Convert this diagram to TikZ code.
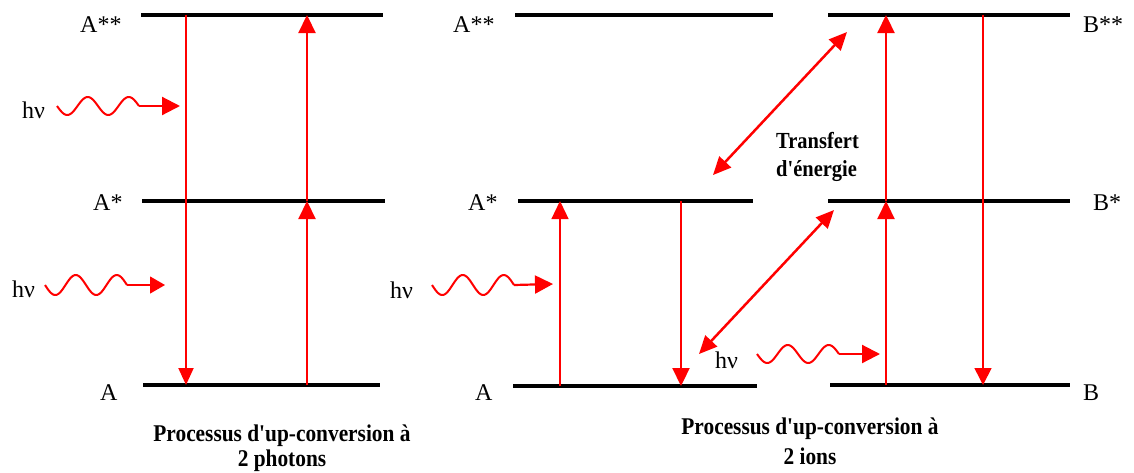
\documentclass[tikz,border=0pt]{standalone}
\usepackage{fontspec}
\setmainfont{Liberation Serif}
\newfontfamily\capfont[FakeStretch=0.89]{Liberation Serif}
\usetikzlibrary{arrows.meta}
\newcommand\photonwave[4]{% x0, yc, amplitude, end coordinate name
  \draw[wave] plot[domain=0:82,samples=70] ({#1+\x},{#2+#3*sin(8.7805*\x)});
  \coordinate (#4) at ({#1+82},{#2});
}
\begin{document}
\begin{tikzpicture}[x=1pt,y=-1pt,
  lvl/.style={line width=4pt, black},
  lab/.style={anchor=base west, inner sep=0pt, font=\fontsize{24}{28}\selectfont},
  redup/.style={red, line width=2.2pt, -{Triangle[length=18pt,width=17pt]}},
  redthin/.style={red, line width=1.3pt, -{Triangle[length=18pt,width=17pt]}},
  wave/.style={red, line width=2pt, line join=round},
  shaft/.style={red, line width=2.2pt, -{Triangle[length=18pt,width=18pt]}},
  shaftthin/.style={red, line width=1.2pt, -{Triangle[length=15pt,width=17pt]}},
  diag/.style={red, line width=2.5pt, {Triangle[length=18pt,width=16pt]}-{Triangle[length=18pt,width=16pt]}},
  captionbox/.style={inner sep=0pt, align=center, font=\capfont\bfseries\fontsize{24}{25}\selectfont},
]
\useasboundingbox (0,0) rectangle (1134,472);

% ---------- level coordinates ----------
\coordinate (a2l) at (141,15);  \coordinate (a2r) at (383,15);
\coordinate (a1l) at (142,201); \coordinate (a1r) at (385,201);
\coordinate (a0l) at (143,385); \coordinate (a0r) at (380,385);
\coordinate (m2l) at (515,15);  \coordinate (m2r) at (773,15);
\coordinate (m1l) at (518,201); \coordinate (m1r) at (753,201);
\coordinate (m0l) at (513,386); \coordinate (m0r) at (757,386);
\coordinate (b2l) at (828,15);  \coordinate (b2r) at (1070,15);
\coordinate (b1l) at (828,201); \coordinate (b1r) at (1070,201);
\coordinate (b0l) at (830,385); \coordinate (b0r) at (1070,385);

\draw[lvl] (a2l) -- (a2r);
\draw[lvl] (a1l) -- (a1r);
\draw[lvl] (a0l) -- (a0r);
\draw[lvl] (m2l) -- (m2r);
\draw[lvl] (m1l) -- (m1r);
\draw[lvl] (m0l) -- (m0r);
\draw[lvl] (b2l) -- (b2r);
\draw[lvl] (b1l) -- (b1r);
\draw[lvl] (b0l) -- (b0r);

% ---------- labels ----------
\node[lab] (tA2) at (80,32) {A**};
\node[lab] (tA1) at (93,210) {A*};
\node[lab] (tA0) at (100,400) {A};
\node[lab] (tM2) at (453,32) {A**};
\node[lab] (tM1) at (468,210) {A*};
\node[lab] (tM0) at (475,400) {A};
\node[lab] (tB2) at (1083,32) {B**};
\node[lab] (tB1) at (1093,210) {B*};
\node[lab] (tB0) at (1083,400) {B};
\node[lab] (h1) at (22,118) {hν};
\node[lab] (h2) at (12,297) {hν};
\node[lab] (h3) at (390,298) {hν};
\node[lab] (h4) at (715,368) {hν};

% ---------- vertical transitions ----------
\coordinate (ld1) at (186,15);  \coordinate (ld0) at (186,385);
\coordinate (lu0) at (307,385); \coordinate (lu1) at (307,201); \coordinate (lu2) at (307,15);
\coordinate (mu0) at (560,386); \coordinate (mu1) at (560,201);
\coordinate (md1) at (681,201); \coordinate (md0) at (681,386);
\coordinate (ru0) at (886,385); \coordinate (ru1) at (886,201); \coordinate (ru2) at (886,15);
\coordinate (rd2) at (983,15);  \coordinate (rd0) at (983,385);

\draw[red, line width=2pt, -{Triangle[length=17pt,width=15pt]}] (ld1) -- (ld0);
\draw[redup] (lu0) -- (lu1);
\draw[redup] (lu1) -- (lu2);
\draw[redthin] (mu0) -- (mu1);
\draw[redup] (md1) -- (md0);
\draw[redup] (ru0) -- (ru1);
\draw[redup] (ru1) -- (ru2);
\draw[red, line width=1.6pt, -{Triangle[length=17pt,width=17pt]}] (rd2) -- (rd0);

% ---------- photons ----------
\coordinate (p1t) at (180,106);
\coordinate (p2t) at (165,285);
\coordinate (p3t) at (553,284);
\coordinate (p4t) at (880,354);
\photonwave{57}{106}{9}{p1e}
\photonwave{45}{285}{10}{p2e}
\photonwave{432}{285}{10}{p3e}
\photonwave{757}{354}{9}{p4e}
\draw[shaft] (p1e) -- (p1t);
\draw[shaftthin] (p2e) -- (p2t);
\draw[shaft] (p3e) -- (p3t);
\draw[shaft] (p4e) -- (p4t);

% ---------- energy transfer ----------
\coordinate (e1a) at (713,175); \coordinate (e1b) at (847,32);
\coordinate (e2a) at (699,354); \coordinate (e2b) at (834,210);
\draw[diag] (e1a) -- (e1b);
\draw[diag] (e2a) -- (e2b);
\node[inner sep=0pt, align=left, anchor=north west,
      font=\capfont\bfseries\fontsize{23}{28}\selectfont] (tr) at (776,132)
      {Transfert\\d'énergie};

% ---------- captions ----------
\node[captionbox, anchor=north] (c1) at (282,425) {Processus d'up-conversion à\\2 photons};
\node[captionbox, anchor=north, font=\capfont\bfseries\fontsize{24}{30}\selectfont] (c2) at (810,418) {Processus d'up-conversion à\\2 ions};
\end{tikzpicture}
\end{document}
